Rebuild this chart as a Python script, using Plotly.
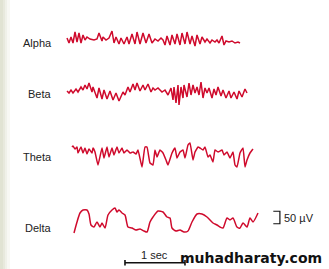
import numpy as np
import plotly.graph_objects as go

FS = 60.0  # samples per second of the traced records

# ---- EEG rhythms: sample index (at FS) and amplitude in microvolts ----
alpha_n = [1, 3, 5, 7, 9, 11, 13, 15, 17, 19, 21, 24, 28, 31, 33, 36, 37, 40, 43, 46, 48, 50, 53, 55, 58, 61, 63, 66,
           69, 71, 74, 77, 80, 83, 86, 89, 92, 95, 97, 99, 101, 104, 106, 109, 111, 114, 116, 119, 121, 124, 126, 129,
           131, 134, 136, 139, 141, 144, 146, 149, 151, 153, 156, 158, 160, 163, 166, 169, 172, 174]
alpha_uv = [12, -8, 16, -8, 36, -4, 32, -8, 24, 4, 16, 8, 4, 8, 32, 0, 16, 4, 12, 40, -8, 16, -12, 12, -12, 16, -12, 28,
            -12, 36, -12, 32, -8, 28, -8, 8, 0, 12, 4, -16, 20, -16, 24, -12, 28, -16, 32, -12, 36, -12, 20, -20,
            24, -12, 16, -4, 8, -8, 4, -4, 4, -8, 20, -16, 0, -4, 0, -8, -4, -8]

beta_n = [1, 3, 5, 7, 10, 12, 15, 17, 19, 21, 23, 26, 27, 31, 33, 36, 38, 41, 44, 47, 50, 53, 57, 59, 62, 64, 67, 69,
          71, 74, 77, 79, 82, 85, 87, 89, 92, 96, 99, 102, 105, 107, 108, 110, 112, 113, 115, 117, 118, 121, 123, 125,
          127, 129, 131, 133, 135, 137, 139, 141, 143, 146, 148, 150, 152, 155, 157, 160, 163, 165, 168, 171, 173,
          176, 179, 181]
beta_uv = [8, 0, 12, 0, 16, 4, 24, 12, 32, 16, 40, 4, 24, -20, 20, -24, 12, -24, 8, -28, 0, -32, 4, -8, 24, 4, 36, 12,
           40, 8, 32, 12, 36, 4, 20, 12, 20, 4, 12, -8, 20, -28, 24, -40, 32, -48, 24, -20, 32, -16, 40, -8,
           32, 0, 24, -8, 44, -20, 20, 0, 20, -20, 16, -8, 24, -12, 12, -20, 8, -20, 4, -24, 8,
           -16, 16, 0]

theta_n = [6, 7, 9, 11, 12, 15, 17, 19, 21, 23, 26, 27, 29, 32, 36, 38, 41, 43, 46, 48, 51, 53, 56, 58, 61, 64, 67, 70,
           72, 76, 79, 81, 84, 87, 89, 91, 94, 97, 100, 102, 106, 109, 111, 114, 117, 119, 122, 124, 127, 129, 132,
           134, 137, 139, 142, 144, 147, 149, 152, 156, 158, 161, 164, 167, 169, 171, 174, 177, 179, 181, 184, 187]
theta_uv = [32, 36, 24, 32, 8, 32, 8, 28, 4, 24, 8, 28, 12, -40, 28, -12, 32, -8, 28, 0, 32, 8, 28, 8, 20, 8, 12, 4,
            20, -48, 32, 32, -32, -40, 20, -8, 20, 8, -20, -40, 8, 28, -12, 12, 20, -12, 40, 48, -20, 12, 32,
            28, 20, 32, -8, 0, -28, 20, 12, 20, 0, 12, -12, 12, -40, -48, 8, 28, -48, -20, 8, 24]

delta_n = [8, 11, 14, 17, 21, 23, 25, 28, 31, 34, 36, 39, 42, 46, 49, 51, 53, 56, 59, 62, 66, 70, 74, 78, 81, 84, 87,
           92, 97, 101, 104, 106, 110, 114, 118, 122, 126, 131, 136, 141, 144, 147, 151, 154, 157, 161, 164, 167,
           171, 174, 177, 181, 184, 187, 192]
delta_uv = [-44, 0, 36, 48, 48, 32, -12, -20, 0, -20, -4, -24, 28, 48, 56, 40, 48, 36, 28, -20, -24, -32, -28, -36, -40,
            0, 20, 44, 40, 20, 16, -24, -36, -32, -40, -36, 0, 32, 32, 20, 8, -4, -12, -20, -24, 16, 8, 16,
            -20, -24, -4, -20, 16, 0, 36]

labels = ["Alpha", "Beta", "Theta", "Delta"]
records = [(alpha_n, alpha_uv), (beta_n, beta_uv), (theta_n, theta_uv), (delta_n, delta_uv)]

# channel offsets (uV) on the stacked display and label heights
offsets = [-164, -372, -620, -888]
label_y = [-172, -374, -628, -910]
line_kind = [("linear", 0), ("linear", 0), ("spline", 0.35), ("spline", 0.6)]

RED = "#cf0a2c"
fig = go.Figure()
for (n, uv), off, (kind, sm) in zip(records, offsets, line_kind):
    t = np.array(n) / FS
    y = np.array(uv) + off
    fig.add_trace(go.Scatter(x=t, y=y, mode="lines",
                             line=dict(color=RED, width=1.5, shape=kind, smoothing=sm),
                             hoverinfo="skip", showlegend=False))

# 1 sec time-scale bar
bar_t0 = 0.983
bar_y = -1051
fig.add_trace(go.Scatter(x=[bar_t0, bar_t0, bar_t0, bar_t0 + 1, bar_t0 + 1, bar_t0 + 1],
                         y=[bar_y + 11, bar_y - 11, bar_y, bar_y, bar_y + 11, bar_y - 11],
                         mode="lines", line=dict(color="#111", width=1.6),
                         hoverinfo="skip", showlegend=False))
# 50 uV amplitude bracket
br_t0, br_t1 = 3.455, 3.565
br_top = -845
fig.add_trace(go.Scatter(x=[br_t0, br_t1, br_t1, br_t0],
                         y=[br_top, br_top, br_top - 50, br_top - 50],
                         mode="lines", line=dict(color="#111", width=1.2),
                         hoverinfo="skip", showlegend=False))

font = dict(family="Liberation Sans, Arial, sans-serif", size=11, color="#222")
for lab, ly in zip(labels, label_y):
    fig.add_annotation(x=-0.2, y=ly, text=lab, showarrow=False, xanchor="right", yanchor="middle", font=font)
fig.add_annotation(x=3.6, y=br_top - 25, text="50 µV", showarrow=False, xanchor="left", yanchor="middle", font=font)
fig.add_annotation(x=1.475, y=-1020, text="1 sec", showarrow=False, xanchor="center", yanchor="middle", font=font)
fig.add_annotation(x=3.08, y=-1030, text="muhadharaty.com", showarrow=False, xanchor="center", yanchor="middle",
                   font=dict(family="DejaVu Sans", size=14, color="#111", weight="bold"))

# light shaded strip at the left edge of the slide
strip = [("#e1e3d3", 0, 3), ("#e8e9dd", 3, 5), ("#f0f1e9", 5, 7), ("#f8f8f4", 7, 10)]
for col, a, b in strip:
    fig.add_shape(type="rect", xref="paper", yref="paper", x0=a / 329, x1=b / 329, y0=0, y1=1,
                  fillcolor=col, line=dict(width=0), layer="below")

fig.update_layout(width=329, height=269, margin=dict(l=0, r=0, t=0, b=0),
                  paper_bgcolor="white", plot_bgcolor="white",
                  xaxis=dict(range=[-1.1, 263 / 60], visible=False, fixedrange=True),
                  yaxis=dict(range=[-1076, 0], visible=False, fixedrange=True))
fig.write_html("out.html")
